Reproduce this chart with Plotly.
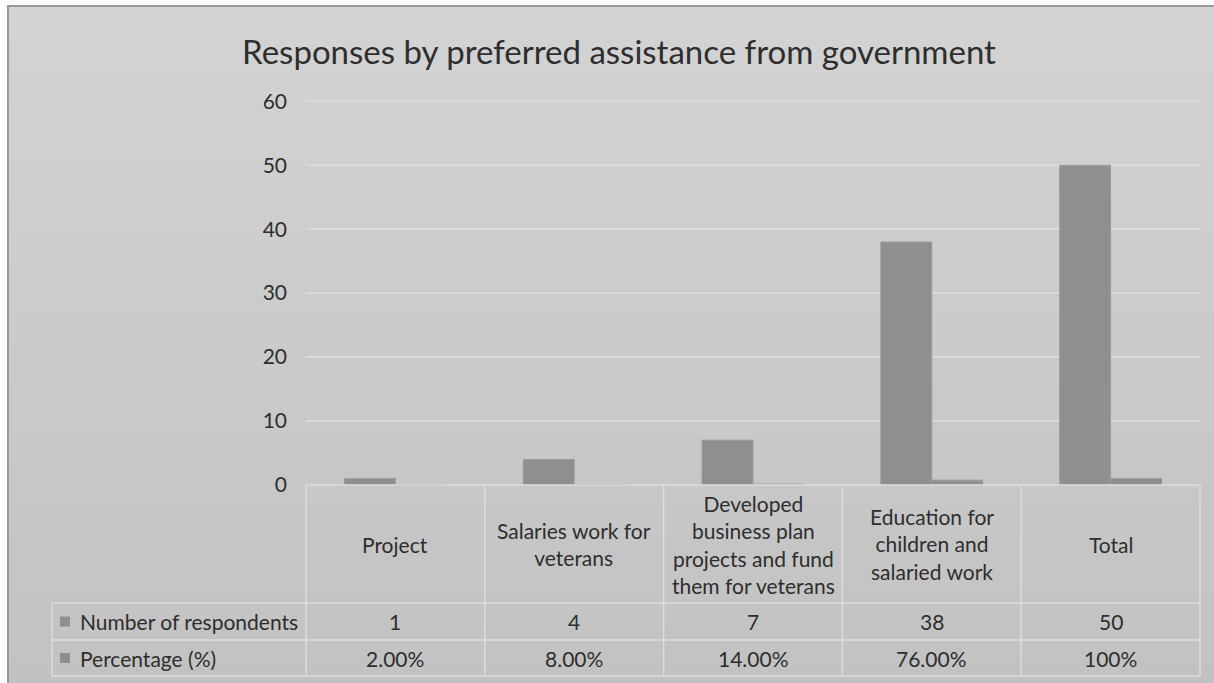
import plotly.graph_objects as go

# ---- data ----
categories = ["Project", "Salaries work for veterans",
              "Developed business plan projects and fund them for veterans",
              "Education for children and salaried work", "Total"]
category_labels = ["Project", "Salaries work for<br>veterans",
                   "Developed<br>business plan<br>projects and fund<br>them for veterans",
                   "Education for<br>children and<br>salaried work", "Total"]
respondents = [1, 4, 7, 38, 50]
percentage = [0.02, 0.08, 0.14, 0.76, 1.00]
percentage_labels = ["2.00%", "8.00%", "14.00%", "76.00%", "100%"]
series_names = ["Number of respondents", "Percentage (%)"]
y_ticks = [0, 10, 20, 30, 40, 50, 60]

# ---- layout geometry (pixels) ----
W, H = 1214, 683
L, R, T, B = 306, 14, 100, 198
PW, PH = W - L - R, H - T - B
Y_MAX = 60.2


def px(xp):
    return (xp - L) / PW


def py(yp):
    return (H - B - yp) / PH


BAR = "#8f8f8f"
GRID = "#dadada"
TXT = "#2e2e2e"
FONT = "Lato"
FS = 21

fig = go.Figure()
fig.add_bar(x=categories, y=respondents, name=series_names[0],
            marker=dict(color=BAR, line=dict(color="#9c9c9c", width=1)))
fig.add_bar(x=categories, y=percentage, name=series_names[1],
            marker=dict(color=BAR, line=dict(color="#9c9c9c", width=1)))

shapes = []
# background gradient
top_c, bot_c = 0xd3, 0xc2
n_strips = 40
y0p, y1p = 6, H + 10
for k in range(n_strips):
    a = y0p + (y1p - y0p) * k / n_strips
    b = y0p + (y1p - y0p) * (k + 1) / n_strips + 1
    c = int(round(top_c + (bot_c - top_c) * k / (n_strips - 1)))
    col = "#%02x%02x%02x" % (c, c, c)
    shapes.append(dict(type="rect", xref="paper", yref="paper",
                       x0=px(8), x1=px(W + 10), y0=py(a), y1=py(b),
                       fillcolor=col, line=dict(width=0), layer="below"))
# chart border
shapes.append(dict(type="rect", xref="paper", yref="paper",
                   x0=px(8), x1=px(W + 10), y0=py(6), y1=py(H + 10),
                   fillcolor="rgba(0,0,0,0)", line=dict(color="#9a9a9a", width=2),
                   layer="below"))

# data table
n = len(categories)
row_top, row_cat, row_1, row_2 = 485, 603, 640, 676
LEG_X = 52
line_style = dict(color="#dcdcdc", width=1.5)
for k in range(n + 1):
    shapes.append(dict(type="line", xref="paper", yref="paper",
                       x0=k / n, x1=k / n, y0=py(row_top), y1=py(row_2),
                       line=line_style))
shapes.append(dict(type="line", xref="paper", yref="paper",
                   x0=px(LEG_X), x1=px(LEG_X), y0=py(row_cat), y1=py(row_2),
                   line=line_style))
shapes.append(dict(type="line", xref="paper", yref="paper",
                   x0=0, x1=1, y0=py(row_top), y1=py(row_top), line=line_style))
for yy in (row_cat, row_1, row_2):
    shapes.append(dict(type="line", xref="paper", yref="paper",
                       x0=px(LEG_X), x1=1, y0=py(yy), y1=py(yy), line=line_style))
# legend keys
for yy in ((row_cat + row_1) / 2, (row_1 + row_2) / 2):
    shapes.append(dict(type="rect", xref="paper", yref="paper",
                       x0=px(60), x1=px(70), y0=py(yy - 5), y1=py(yy + 5),
                       fillcolor=BAR, line=dict(width=0)))

annotations = []
for i, cat in enumerate(categories):
    annotations.append(dict(x=cat, xref="x", yref="paper", y=py((row_top + row_cat) / 2),
                            xanchor="center", yanchor="middle",
                            text=category_labels[i], showarrow=False,
                            font=dict(family=FONT, size=FS, color=TXT), align="center"))
    annotations.append(dict(x=cat, xref="x", yref="paper", y=py((row_cat + row_1) / 2),
                            xanchor="center", yanchor="middle",
                            text=str(respondents[i]), showarrow=False,
                            font=dict(family=FONT, size=FS, color=TXT)))
    annotations.append(dict(x=cat, xref="x", yref="paper", y=py((row_1 + row_2) / 2),
                            xanchor="center", yanchor="middle",
                            text=percentage_labels[i], showarrow=False,
                            font=dict(family=FONT, size=FS, color=TXT)))
for j, nm in enumerate(series_names):
    yy = (row_cat + row_1) / 2 if j == 0 else (row_1 + row_2) / 2
    annotations.append(dict(x=px(78), xref="paper", yref="paper", y=py(yy),
                            xanchor="left", yanchor="middle", text=nm, showarrow=False,
                            font=dict(family=FONT, size=FS, color=TXT)))

fig.update_layout(
    width=W, height=H,
    margin=dict(l=L, r=R, t=T, b=B),
    paper_bgcolor="white",
    plot_bgcolor="rgba(0,0,0,0)",
    showlegend=False,
    barmode="group",
    bargap=0.43,
    bargroupgap=0,
    title=dict(text="Responses by preferred assistance from government",
               x=619 / W, xanchor="center", y=1 - 52 / H, yanchor="middle",
               yref="container",
               font=dict(family=FONT, size=33, color=TXT)),
    xaxis=dict(showticklabels=False, showgrid=False, zeroline=False,
               showline=False, ticks="", range=[-0.5, n - 0.5]),
    yaxis=dict(range=[0, Y_MAX], tickvals=y_ticks, showgrid=True, gridcolor=GRID,
               gridwidth=1.5, zeroline=False, showline=False, ticks="",
               ticklabelstandoff=18,
               tickfont=dict(family=FONT, size=FS, color=TXT)),
    shapes=shapes,
    annotations=annotations,
)

fig.write_html("out.html", config={"displayModeBar": False},
               post_script="document.body.style.margin='0';document.body.style.overflow='hidden';")
